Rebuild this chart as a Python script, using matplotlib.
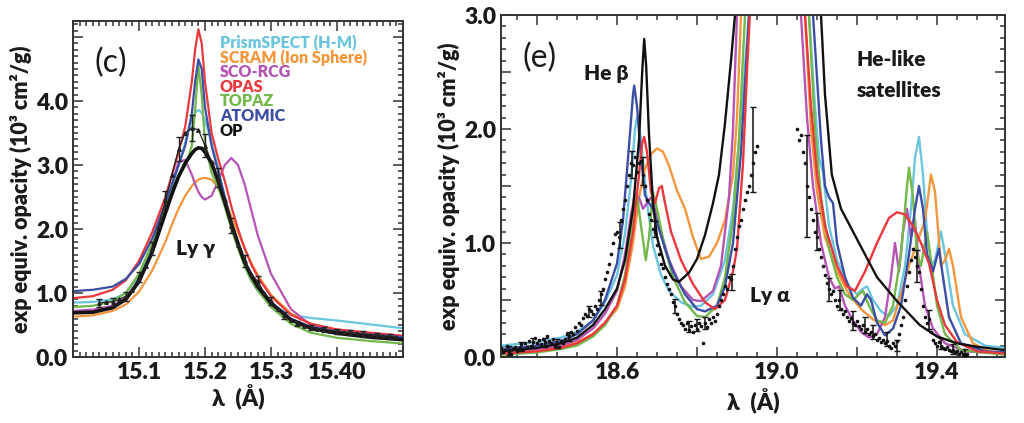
import matplotlib
matplotlib.use('Agg')
import matplotlib.pyplot as plt
from matplotlib.ticker import MultipleLocator, FixedLocator, FixedFormatter

plt.rcParams['font.family'] = ['Lato', 'DejaVu Sans']
plt.rcParams['font.weight'] = 'bold'

# ---------------- model names / colours ----------------
models = ['PrismSPECT (H-M)', 'SCRAM (Ion Sphere)', 'SCO-RCG', 'OPAS', 'TOPAZ', 'ATOMIC', 'OP']
colors = ['#6cc5de', '#f4963c', '#b654b5', '#e8383d', '#72b84a', '#3b4ea3', '#111111']

# ---------------- panel (c): Ly gamma ----------------
xc = [15.00, 15.03, 15.06, 15.08, 15.10, 15.12, 15.14, 15.15, 15.16, 15.17, 15.18, 15.185,
      15.19, 15.195, 15.20, 15.21, 15.22, 15.23, 15.24, 15.25, 15.26, 15.27, 15.28, 15.30,
      15.33, 15.36, 15.40, 15.45, 15.50]
c_prism = [0.85, 0.86, 0.90, 1.00, 1.25, 1.70, 2.30, 2.65, 3.00, 3.35, 3.70, 3.82, 3.86, 3.82,
           3.70, 3.35, 2.95, 2.50, 2.05, 1.72, 1.42, 1.20, 1.03, 0.82, 0.66, 0.61, 0.57, 0.51, 0.45]
c_scram = [0.63, 0.65, 0.72, 0.82, 1.02, 1.35, 1.80, 2.07, 2.32, 2.52, 2.67, 2.73, 2.77, 2.79,
           2.80, 2.77, 2.65, 2.45, 2.20, 1.95, 1.70, 1.47, 1.28, 0.97, 0.68, 0.52, 0.42, 0.37, 0.33]
c_sco = [0.72, 0.74, 0.80, 0.93, 1.20, 1.65, 2.30, 2.70, 3.05, 3.08, 2.85, 2.70, 2.58, 2.50,
         2.46, 2.52, 2.75, 3.00, 3.11, 3.00, 2.70, 2.30, 1.90, 1.30, 0.75, 0.50, 0.38, 0.33, 0.30]
c_opas = [0.92, 0.95, 1.05, 1.20, 1.50, 1.95, 2.50, 2.85, 3.20, 3.60, 4.30, 4.80, 5.12, 4.90,
          4.30, 3.50, 3.10, 2.75, 2.35, 2.00, 1.70, 1.45, 1.25, 0.95, 0.66, 0.52, 0.43, 0.38, 0.33]
c_topaz = [0.78, 0.80, 0.87, 1.00, 1.30, 1.78, 2.35, 2.62, 2.83, 2.98, 3.30, 3.85, 4.55, 4.10,
           3.35, 2.88, 2.65, 2.35, 2.00, 1.70, 1.42, 1.20, 1.04, 0.78, 0.52, 0.38, 0.30, 0.25, 0.21]
c_atomic = [1.03, 1.05, 1.10, 1.22, 1.45, 1.85, 2.40, 2.70, 3.00, 3.30, 3.80, 4.30, 4.65, 4.50,
            3.90, 3.30, 2.90, 2.50, 2.10, 1.80, 1.50, 1.30, 1.12, 0.86, 0.60, 0.47, 0.40, 0.35, 0.31]
c_op = [0.69, 0.70, 0.77, 0.90, 1.18, 1.64, 2.25, 2.55, 2.82, 3.03, 3.18, 3.24, 3.27, 3.26,
        3.20, 3.03, 2.75, 2.42, 2.08, 1.77, 1.48, 1.27, 1.10, 0.84, 0.58, 0.45, 0.37, 0.31, 0.27]

exp_c_x = [15.04, 15.05, 15.06, 15.07, 15.08, 15.09, 15.10, 15.11, 15.12, 15.13, 15.14, 15.15,
           15.16, 15.17, 15.18, 15.19, 15.20, 15.21, 15.22, 15.23, 15.24, 15.25, 15.26, 15.27,
           15.28, 15.29, 15.30, 15.31, 15.32, 15.33, 15.34, 15.35, 15.36, 15.37, 15.38, 15.39,
           15.40, 15.41, 15.42, 15.43, 15.44, 15.45, 15.46, 15.47, 15.48, 15.49]
exp_c_y = [0.84, 0.86, 0.86, 0.90, 0.95, 1.05, 1.25, 1.42, 1.70, 2.05, 2.45, 2.85,
           3.25, 3.50, 3.58, 3.55, 3.30, 3.05, 2.80, 2.45, 2.05, 1.75, 1.50, 1.30,
           1.18, 1.00, 0.88, 0.75, 0.65, 0.58, 0.52, 0.48, 0.46, 0.44, 0.43, 0.41,
           0.40, 0.39, 0.38, 0.37, 0.36, 0.35, 0.34, 0.33, 0.32, 0.31]
exp_c_err = [0.06, 0.06, 0.06, 0.06, 0.07, 0.07, 0.08, 0.09, 0.10, 0.12, 0.14, 0.16,
             0.18, 0.20, 0.20, 0.20, 0.18, 0.16, 0.15, 0.14, 0.12, 0.10, 0.09, 0.08,
             0.08, 0.07, 0.06, 0.05, 0.05, 0.05, 0.04, 0.04, 0.04, 0.04, 0.04, 0.04,
             0.04, 0.04, 0.04, 0.04, 0.04, 0.04, 0.04, 0.04, 0.04, 0.04]

# ---------------- panel (e): He beta / Ly alpha / satellites ----------------
e_prism = [(18.31, 0.10), (18.40, 0.13), (18.46, 0.17), (18.50, 0.22), (18.54, 0.32), (18.57, 0.48),
           (18.60, 0.72), (18.62, 1.08), (18.635, 1.55), (18.645, 2.0), (18.65, 2.1), (18.655, 2.05),
           (18.665, 1.72), (18.675, 1.35), (18.69, 0.98), (18.71, 0.72), (18.73, 0.58), (18.76, 0.48),
           (18.79, 0.44), (18.81, 0.45), (18.84, 0.55), (18.87, 0.85), (18.89, 1.3), (18.91, 2.1),
           (18.93, 3.0), (18.95, 4.0), (19.05, 4.0), (19.08, 3.0), (19.095, 2.2), (19.105, 1.75),
           (19.115, 1.62), (19.13, 1.15), (19.15, 0.85), (19.18, 0.62), (19.20, 0.55), (19.215, 0.6),
           (19.225, 0.62), (19.24, 0.5), (19.26, 0.4), (19.28, 0.36), (19.30, 0.45), (19.32, 0.8),
           (19.335, 1.3), (19.345, 1.75), (19.355, 1.93), (19.365, 1.6), (19.375, 1.1), (19.385, 0.8),
           (19.395, 0.85), (19.41, 1.1), (19.42, 0.9), (19.44, 0.45), (19.47, 0.2), (19.52, 0.1),
           (19.57, 0.08)]
e_scram = [(18.31, 0.04), (18.40, 0.06), (18.46, 0.09), (18.50, 0.13), (18.54, 0.2), (18.57, 0.3),
           (18.60, 0.42), (18.62, 0.62), (18.64, 1.0), (18.655, 1.4), (18.67, 1.65), (18.685, 1.78),
           (18.70, 1.83), (18.715, 1.8), (18.73, 1.68), (18.75, 1.46), (18.77, 1.3), (18.79, 1.05),
           (18.81, 0.86), (18.83, 0.88), (18.85, 1.0), (18.87, 1.2), (18.89, 1.6), (18.90, 2.1),
           (18.91, 3.0), (18.93, 4.0), (19.05, 4.0), (19.07, 3.0), (19.085, 2.0), (19.10, 1.45),
           (19.12, 1.05), (19.15, 0.75), (19.18, 0.55), (19.21, 0.42), (19.24, 0.33), (19.27, 0.28),
           (19.29, 0.32), (19.31, 0.55), (19.33, 0.8), (19.35, 1.0), (19.37, 1.2), (19.385, 1.6),
           (19.395, 1.45), (19.41, 0.8), (19.42, 0.85), (19.43, 0.95), (19.44, 0.8), (19.46, 0.35),
           (19.49, 0.12), (19.53, 0.05), (19.57, 0.03)]
e_sco = [(18.31, 0.05), (18.40, 0.07), (18.46, 0.1), (18.50, 0.15), (18.54, 0.25), (18.57, 0.38),
         (18.60, 0.58), (18.62, 0.9), (18.635, 1.25), (18.645, 1.43), (18.655, 1.4), (18.665, 1.3),
         (18.675, 1.35), (18.685, 1.4), (18.695, 1.3), (18.71, 1.1), (18.73, 0.85), (18.76, 0.62),
         (18.79, 0.5), (18.81, 0.49), (18.84, 0.58), (18.86, 0.8), (18.88, 1.4), (18.89, 2.0),
         (18.90, 3.0), (18.92, 4.0), (19.04, 4.0), (19.06, 3.0), (19.075, 2.1), (19.09, 1.5),
         (19.11, 1.0), (19.13, 0.7), (19.145, 0.6), (19.155, 0.62), (19.17, 0.45), (19.19, 0.32),
         (19.21, 0.22), (19.23, 0.17), (19.25, 0.2), (19.27, 0.35), (19.285, 0.7), (19.295, 1.0),
         (19.305, 0.75), (19.315, 1.1), (19.325, 1.3), (19.335, 1.05), (19.345, 1.2), (19.355, 0.8),
         (19.37, 0.45), (19.39, 0.25), (19.42, 0.12), (19.47, 0.05), (19.57, 0.03)]
e_opas = [(18.31, 0.03), (18.40, 0.05), (18.46, 0.08), (18.50, 0.12), (18.54, 0.2), (18.57, 0.3),
          (18.60, 0.45), (18.62, 0.68), (18.64, 1.1), (18.655, 1.6), (18.663, 1.88), (18.668, 1.93),
          (18.675, 1.8), (18.685, 1.45), (18.695, 1.35), (18.705, 1.48), (18.712, 1.5), (18.72, 1.35),
          (18.735, 1.1), (18.76, 0.85), (18.79, 0.64), (18.82, 0.48), (18.845, 0.42), (18.87, 0.5),
          (18.89, 0.75), (18.90, 0.95), (18.915, 1.7), (18.925, 2.5), (18.932, 3.0), (18.95, 4.0),
          (19.05, 4.0), (19.07, 3.0), (19.085, 2.2), (19.10, 1.6), (19.12, 1.15), (19.15, 0.8),
          (19.175, 0.62), (19.195, 0.58), (19.22, 0.75), (19.25, 1.0), (19.28, 1.22), (19.30, 1.27),
          (19.32, 1.25), (19.34, 1.15), (19.36, 1.0), (19.38, 0.82), (19.40, 0.5), (19.42, 0.28),
          (19.45, 0.13), (19.50, 0.05), (19.57, 0.03)]
e_topaz = [(18.31, 0.02), (18.40, 0.04), (18.46, 0.07), (18.50, 0.1), (18.54, 0.18), (18.57, 0.28),
           (18.60, 0.45), (18.62, 0.72), (18.635, 1.1), (18.645, 1.4), (18.65, 1.42), (18.66, 1.15),
           (18.672, 0.85), (18.68, 1.05), (18.69, 1.45), (18.70, 1.3), (18.72, 0.95), (18.74, 0.7),
           (18.77, 0.48), (18.80, 0.36), (18.82, 0.35), (18.85, 0.45), (18.87, 0.7), (18.89, 1.2),
           (18.905, 1.9), (18.92, 3.0), (18.94, 4.0), (19.05, 4.0), (19.08, 3.0), (19.095, 2.0),
           (19.11, 1.4), (19.13, 0.95), (19.15, 0.7), (19.17, 0.55), (19.19, 0.5), (19.205, 0.55),
           (19.215, 0.58), (19.23, 0.45), (19.25, 0.32), (19.27, 0.3), (19.29, 0.45), (19.31, 0.9),
           (19.325, 1.5), (19.33, 1.66), (19.34, 1.4), (19.35, 0.9), (19.36, 0.8), (19.375, 1.1),
           (19.385, 0.85), (19.40, 0.45), (19.42, 0.2), (19.46, 0.06), (19.57, 0.02)]
e_atomic = [(18.31, 0.07), (18.40, 0.1), (18.46, 0.14), (18.50, 0.2), (18.54, 0.32), (18.57, 0.5),
            (18.60, 0.82), (18.615, 1.2), (18.63, 1.85), (18.64, 2.3), (18.643, 2.38), (18.65, 2.2),
            (18.66, 1.75), (18.67, 1.42), (18.68, 1.35), (18.69, 1.3), (18.70, 1.18), (18.72, 0.95),
            (18.74, 0.75), (18.77, 0.55), (18.80, 0.42), (18.82, 0.4), (18.85, 0.45), (18.87, 0.62),
            (18.89, 1.0), (18.91, 1.8), (18.93, 3.0), (18.95, 4.0), (19.05, 4.0), (19.09, 3.0),
            (19.11, 1.9), (19.12, 1.5), (19.13, 1.4), (19.14, 1.35), (19.15, 1.0), (19.17, 0.7),
            (19.19, 0.52), (19.21, 0.45), (19.225, 0.55), (19.235, 0.5), (19.25, 0.3), (19.27, 0.19),
            (19.29, 0.25), (19.31, 0.45), (19.33, 0.9), (19.345, 1.3), (19.355, 1.5), (19.365, 1.3),
            (19.375, 0.9), (19.39, 0.75), (19.405, 0.95), (19.415, 0.7), (19.43, 0.35), (19.46, 0.12),
            (19.52, 0.05), (19.57, 0.04)]
e_op = [(18.31, 0.05), (18.40, 0.08), (18.46, 0.12), (18.50, 0.17), (18.54, 0.28), (18.57, 0.42),
        (18.60, 0.6), (18.62, 0.85), (18.64, 1.3), (18.655, 1.9), (18.663, 2.5), (18.668, 2.79),
        (18.673, 2.55), (18.68, 1.95), (18.69, 1.35), (18.70, 1.05), (18.72, 0.8), (18.74, 0.68),
        (18.755, 0.66), (18.78, 0.74), (18.80, 0.86), (18.82, 1.07), (18.84, 1.35), (18.855, 1.6),
        (18.87, 2.05), (18.885, 2.6), (18.895, 3.0), (18.91, 3.8), (19.10, 3.8), (19.11, 3.0),
        (19.12, 2.3), (19.137, 1.6), (19.16, 1.3), (19.19, 1.1), (19.22, 0.9), (19.25, 0.7),
        (19.30, 0.49), (19.357, 0.28), (19.40, 0.18), (19.45, 0.12), (19.50, 0.09), (19.57, 0.06)]

exp_e = [(18.31, 0.08), (18.315, 0.04), (18.32, 0.06), (18.325, 0.10), (18.33, 0.05), (18.335, 0.03),
         (18.34, 0.07), (18.345, 0.09), (18.35, 0.05), (18.355, 0.08), (18.36, 0.11), (18.365, 0.07),
         (18.37, 0.12), (18.375, 0.09), (18.38, 0.14), (18.385, 0.10), (18.39, 0.13), (18.395, 0.17),
         (18.40, 0.12), (18.405, 0.15), (18.41, 0.11), (18.415, 0.16), (18.42, 0.13), (18.425, 0.18),
         (18.43, 0.14), (18.435, 0.12), (18.44, 0.16), (18.445, 0.10), (18.45, 0.12), (18.455, 0.09),
         (18.46, 0.14), (18.465, 0.12), (18.47, 0.16), (18.475, 0.20), (18.48, 0.18), (18.485, 0.22),
         (18.49, 0.20), (18.495, 0.26), (18.50, 0.23), (18.505, 0.30), (18.51, 0.28), (18.515, 0.34),
         (18.52, 0.38), (18.525, 0.36), (18.53, 0.42), (18.535, 0.40), (18.54, 0.38), (18.545, 0.45),
         (18.55, 0.42), (18.555, 0.50), (18.56, 0.55), (18.565, 0.60), (18.57, 0.68), (18.575, 0.75),
         (18.58, 0.82), (18.585, 0.90), (18.59, 1.00), (18.595, 1.08), (18.60, 1.10), (18.605, 1.05),
         (18.61, 1.20), (18.615, 1.30), (18.62, 1.38), (18.625, 1.50), (18.63, 1.60), (18.635, 1.70),
         (18.64, 1.68), (18.645, 1.75), (18.65, 1.62), (18.655, 1.70), (18.66, 1.72), (18.665, 1.60),
         (18.67, 1.50), (18.675, 1.38), (18.68, 1.25), (18.685, 1.20), (18.69, 1.12), (18.695, 1.10),
         (18.70, 0.98), (18.705, 0.90), (18.71, 0.82), (18.715, 0.78), (18.72, 0.70), (18.725, 0.64),
         (18.73, 0.60), (18.735, 0.55), (18.74, 0.48), (18.745, 0.45), (18.75, 0.38), (18.755, 0.33),
         (18.76, 0.30), (18.765, 0.28), (18.77, 0.25), (18.775, 0.30), (18.78, 0.24), (18.785, 0.27),
         (18.79, 0.22), (18.795, 0.28), (18.80, 0.25), (18.805, 0.30), (18.81, 0.27), (18.815, 0.12),
         (18.82, 0.30), (18.825, 0.26), (18.83, 0.33), (18.835, 0.30), (18.84, 0.35), (18.845, 0.32),
         (18.85, 0.38), (18.855, 0.45), (18.86, 0.50), (18.865, 0.55), (18.87, 0.62), (18.875, 0.60),
         (18.88, 0.70), (18.885, 0.68), (18.89, 0.80), (18.895, 0.95), (18.90, 1.05), (18.905, 1.15),
         (18.91, 1.20), (18.915, 1.30), (18.92, 1.38), (18.925, 1.45), (18.93, 1.50), (18.935, 1.60),
         (18.94, 1.70), (18.945, 1.80), (18.95, 1.85),
         (19.05, 2.00), (19.055, 1.90), (19.06, 1.95), (19.065, 1.80), (19.07, 1.70), (19.075, 1.50),
         (19.08, 1.40), (19.085, 1.30), (19.09, 1.20), (19.095, 1.10), (19.10, 1.05), (19.105, 0.95),
         (19.11, 0.88), (19.115, 0.80), (19.12, 0.72), (19.125, 0.65), (19.13, 0.60), (19.135, 0.55),
         (19.14, 0.58), (19.145, 0.50), (19.15, 0.45), (19.155, 0.50), (19.16, 0.42), (19.165, 0.38),
         (19.17, 0.40), (19.175, 0.35), (19.18, 0.32), (19.185, 0.34), (19.19, 0.30), (19.195, 0.28),
         (19.20, 0.32), (19.205, 0.27), (19.21, 0.25), (19.215, 0.28), (19.22, 0.22), (19.225, 0.25),
         (19.23, 0.20), (19.235, 0.22), (19.24, 0.18), (19.245, 0.20), (19.25, 0.15), (19.255, 0.17),
         (19.26, 0.13), (19.265, 0.15), (19.27, 0.12), (19.275, 0.14), (19.28, 0.10), (19.285, 0.08),
         (19.29, 0.12), (19.295, 0.10), (19.30, 0.14), (19.305, 0.20), (19.31, 0.28), (19.315, 0.35),
         (19.32, 0.50), (19.325, 0.62), (19.33, 0.75), (19.335, 0.85), (19.34, 0.95), (19.345, 0.88),
         (19.35, 0.80), (19.355, 0.75), (19.36, 0.60), (19.365, 0.45), (19.37, 0.35), (19.375, 0.30),
         (19.38, 0.33), (19.385, 0.22), (19.39, 0.15), (19.395, 0.12), (19.40, 0.10), (19.405, 0.13),
         (19.41, 0.10), (19.415, 0.08), (19.42, 0.07), (19.425, 0.09), (19.43, 0.06), (19.435, 0.05),
         (19.44, 0.06), (19.445, 0.04), (19.45, 0.05), (19.455, 0.03), (19.46, 0.04), (19.465, 0.03),
         (19.47, 0.02), (19.475, 0.03)]

exp_e_bars = [(18.33, 0.06, 0.04), (18.36, 0.09, 0.04), (18.39, 0.13, 0.04), (18.42, 0.13, 0.04),
              (18.45, 0.12, 0.04), (18.48, 0.18, 0.04), (18.53, 0.40, 0.05), (18.56, 0.52, 0.06),
              (18.607, 1.07, 0.11), (18.637, 1.69, 0.12), (18.665, 1.63, 0.12), (18.695, 1.12, 0.07),
              (18.745, 0.45, 0.06), (18.78, 0.27, 0.05), (18.80, 0.28, 0.05), (18.82, 0.30, 0.05),
              (18.887, 0.66, 0.07), (18.94, 1.82, 0.37), (19.075, 1.50, 0.45), (19.10, 1.10, 0.16),
              (19.13, 0.59, 0.10), (19.157, 0.50, 0.09), (19.19, 0.32, 0.08), (19.22, 0.28, 0.07),
              (19.24, 0.22, 0.06), (19.275, 0.16, 0.06), (19.30, 0.10, 0.05), (19.35, 0.80, 0.14),
              (19.38, 0.33, 0.08), (19.41, 0.12, 0.05), (19.44, 0.07, 0.04), (19.47, 0.04, 0.03)]

# ---------------- figure ----------------
fig = plt.figure(figsize=(10.24, 4.23), dpi=100)
W, H = 1024, 423
axc = fig.add_axes([73 / W, 1 - 357 / H, 330 / W, 336 / H])
axe = fig.add_axes([501 / W, 1 - 357 / H, 504 / W, 342 / H])

lbl_fs = 15.5
tick_fs = 16.5
TXT = '#1a1a1a'


def style(ax):
    for s in ax.spines.values():
        s.set_linewidth(1.4)
        s.set_color('#333333')
    ax.tick_params(which='both', direction='in', top=True, right=True, color='#333333',
                   labelsize=tick_fs, width=1.1, labelcolor=TXT)
    ax.tick_params(which='major', length=7)
    ax.tick_params(which='minor', length=3.5)
    for t in ax.get_xticklabels() + ax.get_yticklabels():
        t.set_fontweight('heavy')


# panel (c)
c_series = [c_prism, c_scram, c_sco, c_opas, c_topaz, c_atomic, c_op]
for ys, col in zip(c_series, colors):
    lw = 2.6 if col == '#111111' else 1.6
    axc.plot(xc, ys, color=col, lw=lw, zorder=3 if col == '#111111' else 2)
axc.errorbar(exp_c_x, exp_c_y, yerr=exp_c_err, fmt='-', color='#222222', lw=0.9,
             elinewidth=1.0, capsize=2, marker='^', ms=2.5, errorevery=2, zorder=4)
axc.set_xlim(15.0, 15.5)
axc.set_ylim(0, 5.25)
axc.xaxis.set_major_locator(FixedLocator([15.1, 15.2, 15.3, 15.4]))
axc.xaxis.set_major_formatter(FixedFormatter(['15.1', '15.2', '15.3', '15.40']))
axc.xaxis.set_minor_locator(MultipleLocator(0.01))
axc.yaxis.set_major_locator(FixedLocator([0, 1, 2, 3, 4, 5]))
axc.yaxis.set_major_formatter(FixedFormatter(['0.0', '1.0', '2.0', '3.0', '4.0', '']))
axc.yaxis.set_minor_locator(MultipleLocator(0.1))
style(axc)
axc.set_xlabel('λ  (Å)', fontsize=16.5, fontweight='heavy', labelpad=1, color=TXT)
axc.set_ylabel('exp equiv. opacity (10³ cm²/g)', fontsize=lbl_fs, fontweight='heavy',
               labelpad=3, color=TXT)

axc.text(0.115, 0.875, '(c)', transform=axc.transAxes, fontsize=23, fontweight='normal',
         ha='center', va='center', color=TXT)
for i, (name, col) in enumerate(zip(models, colors)):
    axc.text(0.445, 0.935 - i * 0.0435, name, transform=axc.transAxes, fontsize=11.5,
             fontweight='heavy', color=col, ha='left', va='center')
axc.text(0.37, 0.324, 'Ly γ', transform=axc.transAxes, fontsize=15, fontweight='heavy',
         ha='center', va='center', color=TXT)

# panel (e)
e_series = [e_prism, e_scram, e_sco, e_opas, e_topaz, e_atomic, e_op]
order = [0, 1, 2, 4, 5, 3, 6]
for i in order:
    pts = e_series[i]
    axe.plot([p[0] for p in pts], [p[1] for p in pts], color=colors[i], lw=1.7, zorder=2)
axe.plot([p[0] for p in exp_e], [p[1] for p in exp_e], ls='none', marker='o', ms=1.6,
         color='#111111', zorder=4)
axe.errorbar([b[0] for b in exp_e_bars], [b[1] for b in exp_e_bars],
             yerr=[b[2] for b in exp_e_bars], fmt='none', ecolor='#111111',
             elinewidth=1.1, capsize=2.5, zorder=4)
axe.set_xlim(18.31, 19.57)
axe.set_ylim(0, 3.0)
axe.xaxis.set_major_locator(FixedLocator([18.4, 18.6, 18.8, 19.0, 19.2, 19.4]))
axe.xaxis.set_major_formatter(FixedFormatter(['', '18.6', '', '19.0', '', '19.4']))
axe.xaxis.set_minor_locator(MultipleLocator(0.05))
axe.yaxis.set_major_locator(FixedLocator([0, 0.5, 1.0, 1.5, 2.0, 2.5, 3.0]))
axe.yaxis.set_major_formatter(FixedFormatter(['0.0', '', '1.0', '', '2.0', '', '3.0']))
axe.yaxis.set_minor_locator(MultipleLocator(0.1))
style(axe)
axe.set_xlabel('λ  (Å)', fontsize=16.5, fontweight='heavy', labelpad=4, color=TXT)
axe.set_ylabel('exp equiv. opacity (10³ cm²/g)', fontsize=lbl_fs, fontweight='heavy',
               labelpad=3, color=TXT)

axe.text(0.077, 0.874, '(e)', transform=axe.transAxes, fontsize=23, fontweight='normal',
         ha='center', va='center', color=TXT)
axe.text(0.208, 0.830, 'He β', transform=axe.transAxes, fontsize=15, fontweight='heavy',
         ha='center', va='center', color=TXT)
axe.text(0.706, 0.871, 'He-like', transform=axe.transAxes, fontsize=15, fontweight='heavy',
         ha='left', va='center', color=TXT)
axe.text(0.706, 0.780, 'satellites', transform=axe.transAxes, fontsize=15, fontweight='heavy',
         ha='left', va='center', color=TXT)
axe.text(0.534, 0.181, 'Ly α', transform=axe.transAxes, fontsize=15, fontweight='heavy',
         ha='center', va='center', color=TXT)

fig.savefig('out.png', dpi=100)
